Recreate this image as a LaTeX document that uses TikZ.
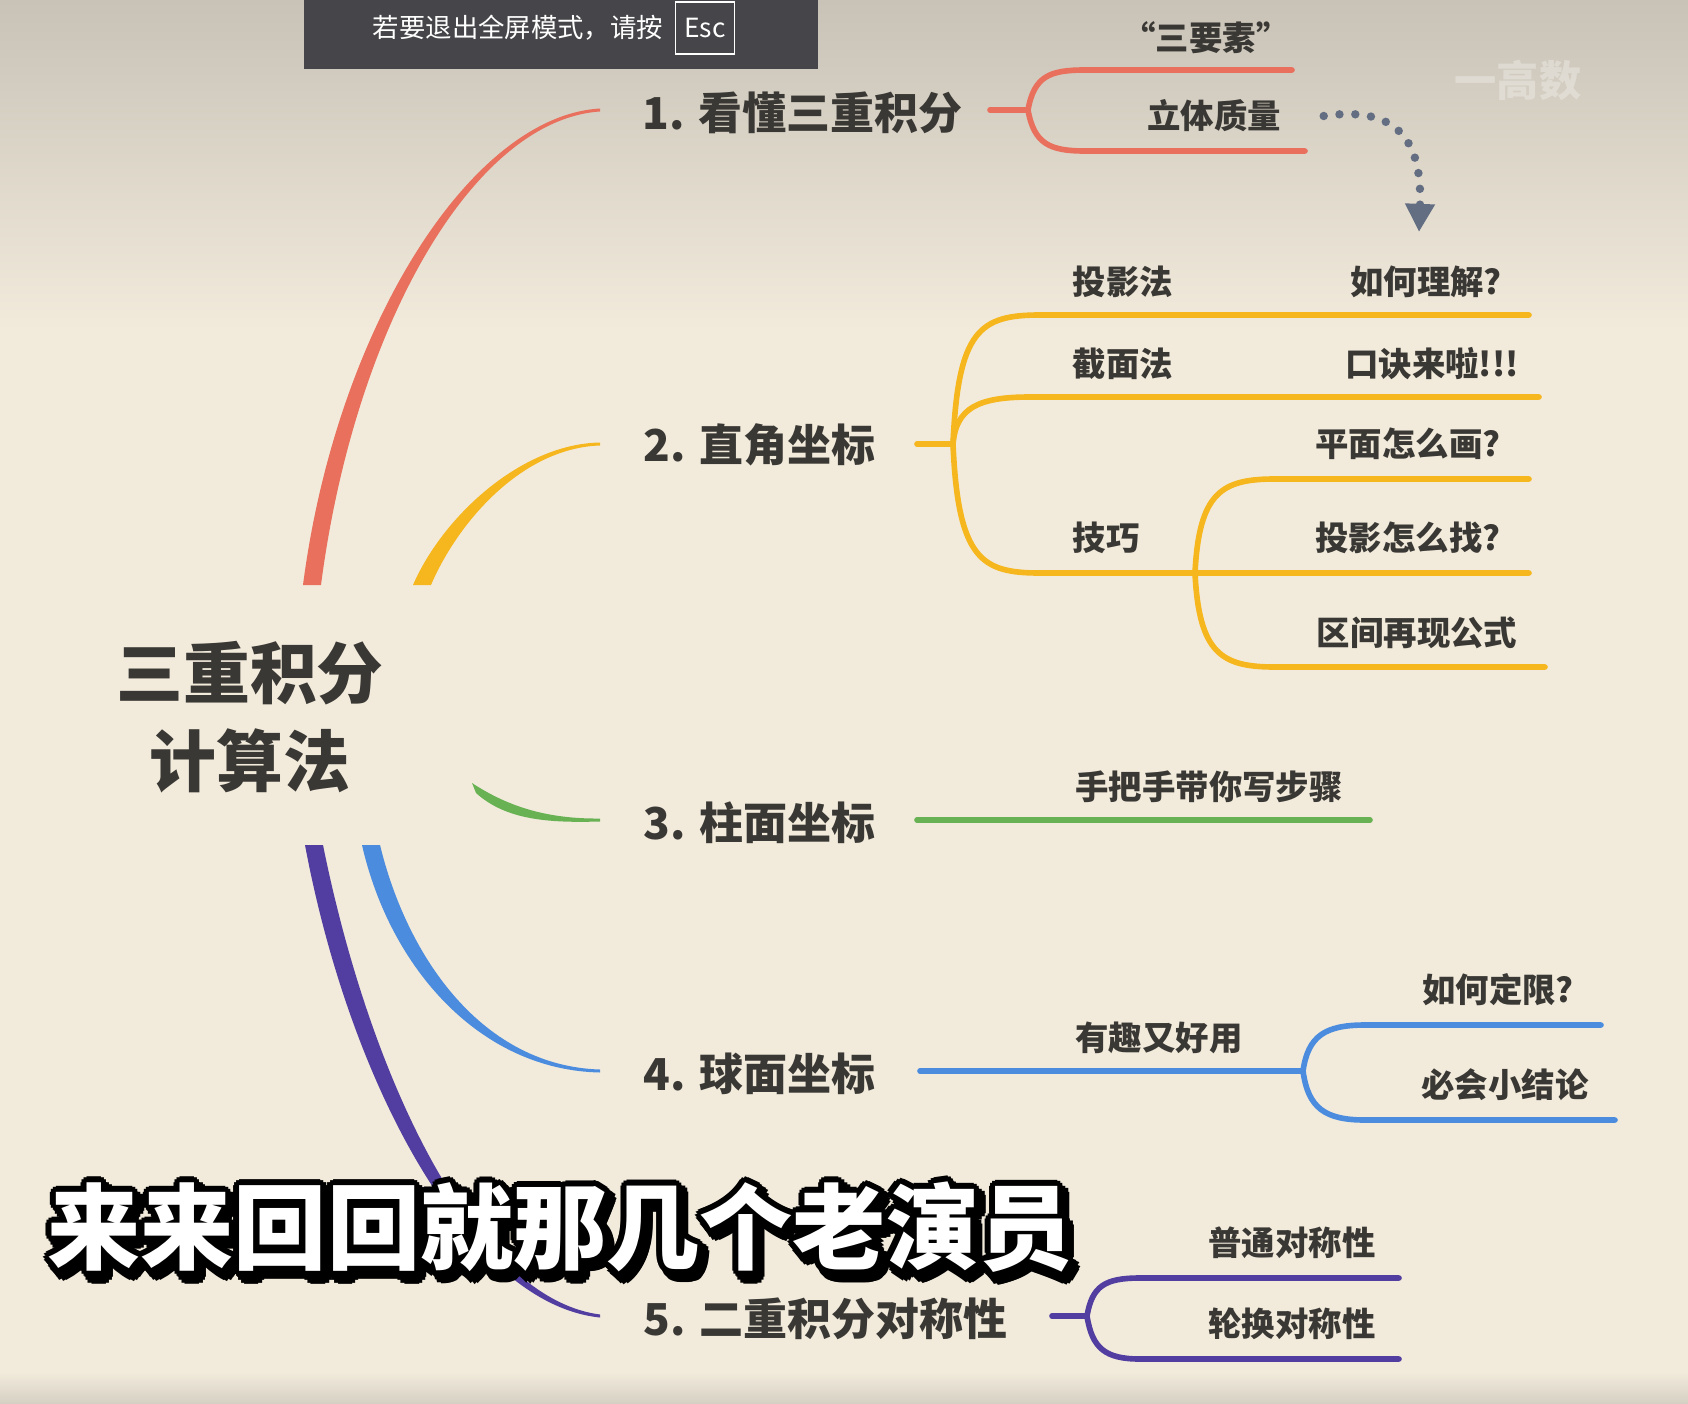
\documentclass[tikz,border=0pt]{standalone}
\usepackage{fontspec}
\setmainfont{Noto Sans CJK SC}
\usetikzlibrary{arrows.meta, positioning, calc}
\definecolor{mmRed}{RGB}{232, 112, 92}
\definecolor{mmYellow}{RGB}{246, 182, 30}
\definecolor{mmGreen}{RGB}{104, 178, 84}
\definecolor{mmBlue}{RGB}{76, 140, 222}
\definecolor{mmPurple}{RGB}{82, 62, 160}
\definecolor{mmText}{RGB}{58, 56, 52}
\definecolor{mmPaper}{RGB}{242, 235, 220}
\definecolor{mmTop}{RGB}{200, 194, 183}
\definecolor{mmFoot}{RGB}{214, 208, 196}
\definecolor{mmBar}{RGB}{70, 70, 74}
\definecolor{mmDots}{RGB}{100, 110, 130}
\tikzset{
  hub/.style={font=\fontsize{19}{25}\selectfont\bfseries, text=mmText, align=center, inner sep=0pt},
  topic/.style={font=\fontsize{12.5}{15}\selectfont\bfseries, text=mmText, anchor=west, inner sep=0pt},
  leaf/.style={font=\fontsize{9.5}{12}\selectfont\bfseries, text=mmText, inner sep=0pt},
  limb/.style={line width=1.6pt, line cap=round, draw=#1},
  limb/.default=mmYellow,
  caption/.style={font=\fontsize{26.5}{30}\selectfont\bfseries, inner sep=0pt},
  dotarrow/.style={mmDots, line width=2.4pt, line cap=round, dash pattern=on 0pt off 4.5pt, -{Triangle[length=8pt, width=8pt]}},
}
\begin{document}
\begin{tikzpicture}[x=0.01cm, y=-0.01cm]
  \useasboundingbox (0,0) rectangle (1688,1403);
  % paper
  \fill[mmPaper] (0,0) rectangle (1688,1403);
  \shade[top color=mmTop, bottom color=mmPaper] (0,0) rectangle (1688,330);
  \shade[top color=mmPaper, bottom color=mmFoot] (0,1372) rectangle (1688,1403);

  % centre
  \node[hub] (hub) at (250,717) {三重积分\\计算法};

  % first level
  \node[topic] (t1) at (642,113) {1. 看懂三重积分};
  \node[topic] (t2) at (643,445) {2. 直角坐标};
  \node[topic] (t3) at (643,823) {3. 柱面坐标};
  \node[topic] (t4) at (643,1074) {4. 球面坐标};
  \node[topic] (t5) at (643,1319) {5. 二重积分对称性};

  \coordinate (r0) at (312,585);  \coordinate (r1) at (600,110);
  \coordinate (y0) at (422,585);  \coordinate (y1) at (600,444);
  \coordinate (g0) at (474,788);  \coordinate (g1) at (600,820);
  \coordinate (b0) at (371,845);  \coordinate (b1) at (600,1071);
  \coordinate (p0) at (314,845);  \coordinate (p1) at (600,1316);

  % tapered limbs
  \fill[mmRed] ($(r0)+(-9,0)$) .. controls (336,330) and (470,116) .. ($(r1)+(0,-1.5)$)
    -- ($(r1)+(0,1.5)$) .. controls (472,120) and (354,330) .. ($(r0)+(9,0)$) -- cycle;
  \fill[mmYellow] ($(y0)+(-9,0)$) .. controls (442,518) and (520,444) .. ($(y1)+(0,-1.5)$)
    -- ($(y1)+(0,1.5)$) .. controls (522,448) and (458,522) .. ($(y0)+(9,0)$) -- cycle;
  \fill[mmGreen] ($(g0)+(-2,-5)$) .. controls (510,808) and (550,819) .. ($(g1)+(0,-1.5)$)
    -- ($(g1)+(0,1.5)$) .. controls (548,823) and (506,820) .. ($(g0)+(2,5)$) -- cycle;
  \fill[mmBlue] ($(b0)+(-9,0)$) .. controls (390,968) and (480,1070) .. ($(b1)+(0,1.5)$)
    -- ($(b1)+(0,-1.5)$) .. controls (484,1066) and (408,960) .. ($(b0)+(9,0)$) -- cycle;
  \fill[mmPurple] ($(p0)+(-9,0)$) .. controls (350,1085) and (468,1304) .. ($(p1)+(0,1.5)$)
    -- ($(p1)+(0,-1.5)$) .. controls (474,1298) and (370,1078) .. ($(p0)+(9,0)$) -- cycle;

  % 1. red
  \coordinate (f1) at (1028,110);
  \draw[limb=mmRed] (990,110) -- (f1);
  \draw[limb=mmRed] (f1) .. controls (1034,76) and (1050,70) .. (1085,70) -- (1292,70);
  \draw[limb=mmRed] (f1) .. controls (1034,144) and (1050,151) .. (1085,151) -- (1305,151);
  \node[leaf] (q1) at (1206,38) {“三要素”};
  \node[leaf] (q2) at (1214,116) {立体质量};
  \coordinate (qTip) at (1419,232);
  \draw[dotarrow] ([xshift=12]q2.east) .. controls (1405,104) and (1422,150) .. (qTip);

  % 2. yellow
  \coordinate (f2) at (953,444);
  \coordinate (f2s) at (1195,573);
  \draw[limb] (917,444) -- (f2);
  \draw[limb] (f2) .. controls (958,330) and (980,315) .. (1040,315) -- (1529,315);
  \draw[limb] (f2) .. controls (956,408) and (978,397) .. (1030,397) -- (1539,397);
  \draw[limb] (f2) .. controls (958,560) and (982,573) .. (1040,573) -- (1529,573);
  \draw[limb] (f2s) .. controls (1199,492) and (1222,479) .. (1275,479) -- (1529,479);
  \draw[limb] (f2s) .. controls (1199,654) and (1222,667) .. (1275,667) -- (1545,667);
  \node[leaf] (m1) at (1123,282) {投影法};
  \node[leaf] (m2) at (1426,282) {如何理解?};
  \node[leaf] (m3) at (1123,364) {截面法};
  \node[leaf] (m4) at (1432,364) {口诀来啦!!!};
  \node[leaf] (m5) at (1106,538) {技巧};
  \node[leaf] (m6) at (1408,444) {平面怎么画?};
  \node[leaf] (m7) at (1408,538) {投影怎么找?};
  \node[leaf] (m8) at (1417,633) {区间再现公式};

  % 3. green
  \draw[limb=mmGreen] (917,820) -- (1370,820);
  \node[leaf] (c1) at (1209,787) {手把手带你写步骤};

  % 4. blue
  \coordinate (f4) at (1303,1071);
  \draw[limb=mmBlue] (920,1071) -- (f4);
  \draw[limb=mmBlue] (f4) .. controls (1308,1036) and (1325,1025) .. (1365,1025) -- (1601,1025);
  \draw[limb=mmBlue] (f4) .. controls (1308,1108) and (1325,1120) .. (1365,1120) -- (1615,1120);
  \node[leaf] (s1) at (1159,1038) {有趣又好用};
  \node[leaf] (s2) at (1498,990) {如何定限?};
  \node[leaf] (s3) at (1505,1085) {必会小结论};

  % 5. purple
  \coordinate (f5) at (1087,1316);
  \draw[limb=mmPurple] (1052,1316) -- (f5);
  \draw[limb=mmPurple] (f5) .. controls (1092,1286) and (1105,1278) .. (1140,1278) -- (1399,1278);
  \draw[limb=mmPurple] (f5) .. controls (1092,1348) and (1105,1359) .. (1140,1359) -- (1399,1359);
  \node[leaf] (d1) at (1292,1243) {普通对称性};
  \node[leaf] (d2) at (1292,1324) {轮换对称性};

  % subtitle, outlined
  \coordinate (capAt) at (560,1227);
  \foreach \a in {0,30,...,330} {
    \node[caption, text=black] at ([shift={(\a:7)}]$(capAt)+(5,6)$) {来来回回就那几个老演员};
    \node[caption, text=black] at ([shift={(\a:6)}]capAt) {来来回回就那几个老演员};
  }
  \node[caption, text=white] (cap) at (capAt) {来来回回就那几个老演员};

  % watermark
  \node[font=\fontsize{12}{14}\selectfont\bfseries, text=white, opacity=0.3] (wm) at (1518,80) {一高数};

  % fullscreen bar
  \fill[mmBar] (304,0) rectangle (818,69);
  \node[font=\fontsize{7.5}{9}\selectfont, text=white, inner sep=0pt] (esc1) at (518,28) {若要退出全屏模式，请按};
  \node[draw=white, line width=0.5pt, font=\fontsize{7.5}{9}\selectfont, text=white,
        minimum width=59*0.01cm, minimum height=52*0.01cm, inner sep=0pt] (esc2) at (705,28) {Esc};
\end{tikzpicture}
\end{document}
